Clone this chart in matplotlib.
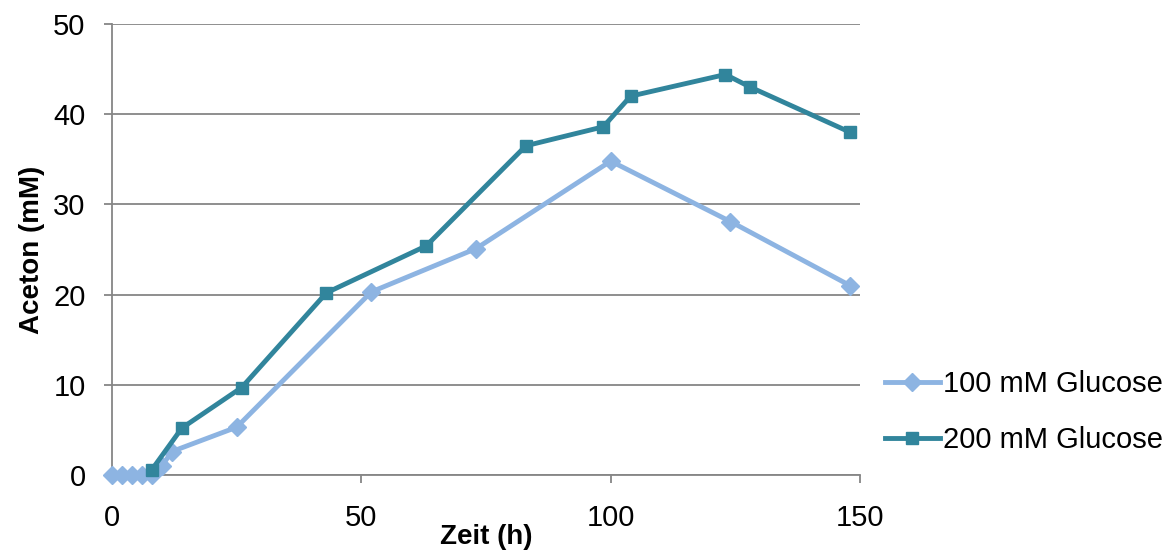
import matplotlib.pyplot as plt

plt.rcParams['font.family'] = ['Liberation Sans', 'DejaVu Sans']

# Zeit (h) und Aceton (mM)
t_100 = [0, 2, 4, 6, 8, 10, 12, 25, 52, 73, 100, 124, 148]
aceton_100 = [0, 0, 0, 0, 0, 1.0, 2.6, 5.3, 20.3, 25.1, 34.8, 28.1, 21.0]
t_200 = [8, 14, 26, 43, 63, 83, 98.5, 104, 123, 128, 148]
aceton_200 = [0.6, 5.2, 9.7, 20.2, 25.4, 36.5, 38.6, 42.0, 44.4, 43.0, 38.0]

fig = plt.figure(figsize=(11.73, 5.54), dpi=100)
ax = fig.add_axes([0.0955, 0.1426, 0.6377, 0.8141])

ax.plot(t_100, aceton_100, color='#8DB4E2', lw=3.5, marker='D', ms=9,
        label='100 mM Glucose', zorder=3, clip_on=False)
ax.plot(t_200, aceton_200, color='#31859C', lw=3.5, marker='s', ms=9,
        label='200 mM Glucose', zorder=4, clip_on=False)

ax.set_xlim(0, 150)
ax.set_ylim(0, 50)
ax.set_xticks([0, 50, 100, 150])
ax.set_yticks(range(0, 51, 10))
ax.grid(axis='y', color='#868686', lw=1.3)
ax.set_axisbelow(True)
for s in ['top', 'right']:
    ax.spines[s].set_visible(False)
for s in ['left', 'bottom']:
    ax.spines[s].set_color('#868686')
    ax.spines[s].set_linewidth(1.3)
ax.tick_params(colors='#868686', labelcolor='black', labelsize=21, length=6, width=1.3)
ax.tick_params(axis='x', pad=15)
ax.tick_params(axis='y', pad=13)

ax.set_xlabel('Zeit (h)', fontsize=20, fontweight='bold', labelpad=-6)
ax.set_ylabel('Aceton (mM)', fontsize=20, fontweight='bold', labelpad=6)

ax.legend(loc='center left', bbox_to_anchor=(1.033, 0.139), frameon=False,
          fontsize=21, handlelength=1.9, handletextpad=0.1, labelspacing=0.95,
          borderpad=0, borderaxespad=0)

fig.savefig('out.png', dpi=100)
